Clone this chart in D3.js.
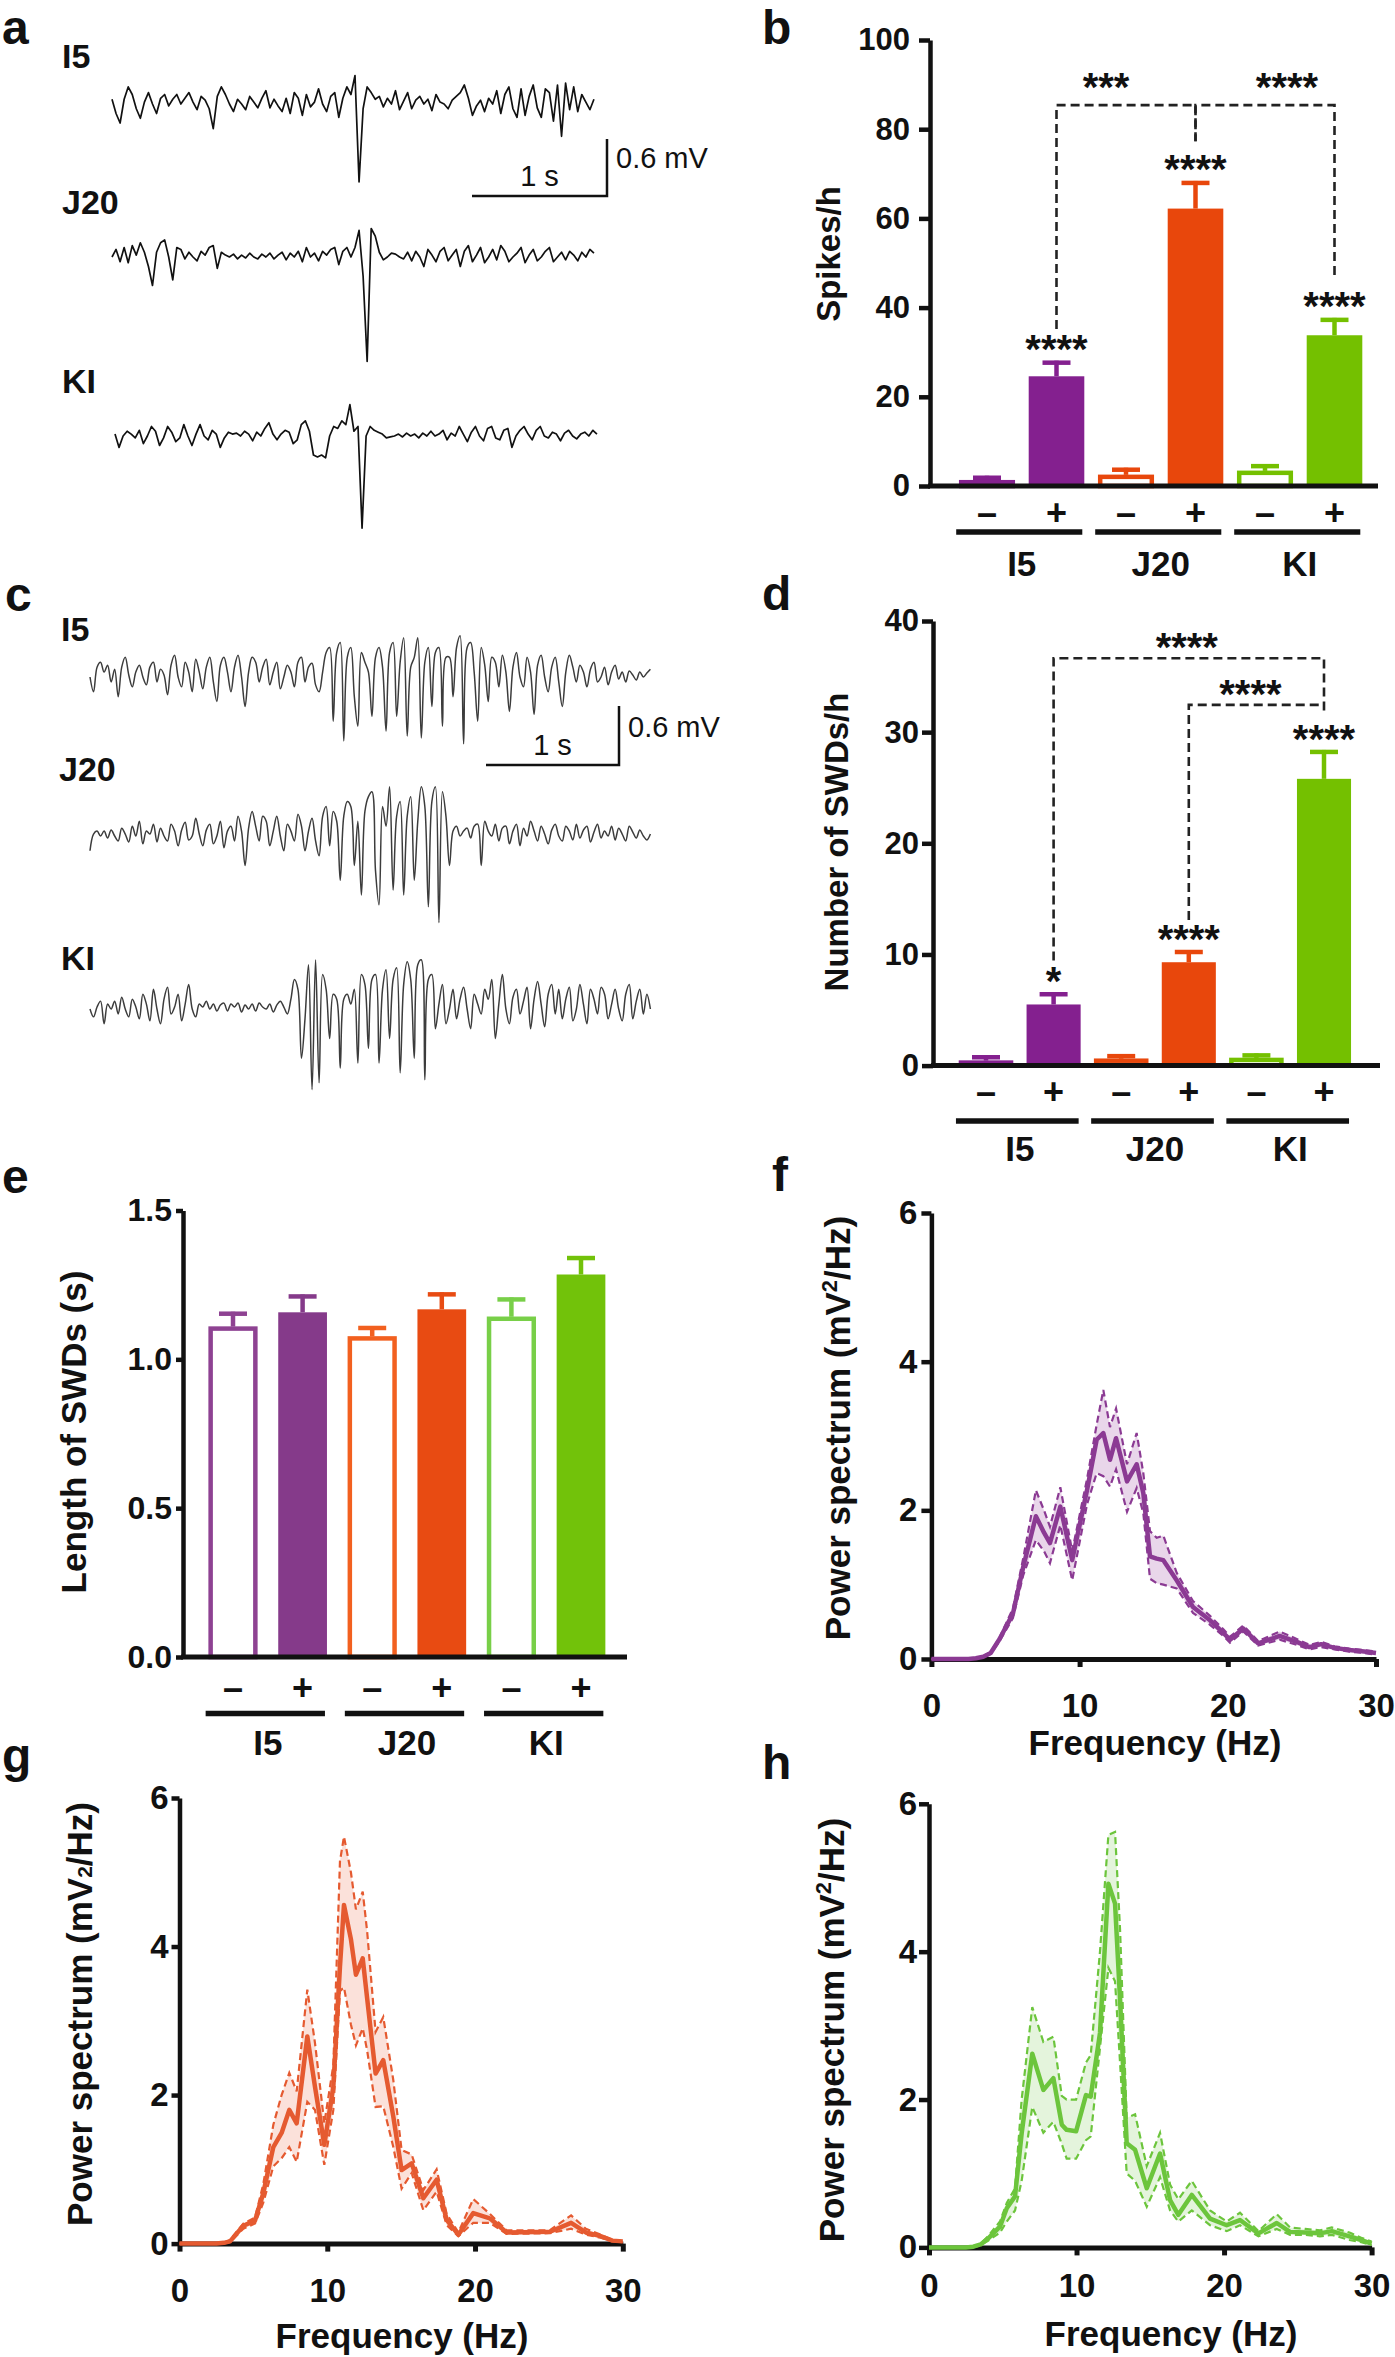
<!DOCTYPE html>
<html>
<head>
<meta charset="utf-8">
<script src="https://cdn.jsdelivr.net/npm/d3@7"></script>
<style>
body { margin: 0; background: #fff; }
svg { display: block; }
text { font-family: "Liberation Sans", Arial, Helvetica, sans-serif; fill: #111; }
</style>
</head>
<body>
<svg id="fig" width="1395" height="2357"></svg>
<script>
var svg = d3.select("#fig")

// ---------- data ----------
var groups = ["I5", "J20", "KI"]
var barKeys = ["I5-", "I5+", "J20-", "J20+", "KI-", "KI+"]
var signs = ["–", "+", "–", "+", "–", "+"]

var spikesMean = [1.3, 24.6, 2.5, 62.2, 3.4, 33.8]
var spikesErr = [1.0, 3.5, 1.6, 6.2, 1.5, 3.9]
var swdMean = [0.45, 5.5, 0.62, 9.3, 0.69, 25.8]
var swdErr = [0.48, 1.1, 0.41, 1.1, 0.41, 2.6]
var lenMean = [1.11, 1.158, 1.077, 1.168, 1.143, 1.285]
var lenErr = [0.05, 0.06, 0.035, 0.057, 0.065, 0.062]

var spikesTicks = [0, 20, 40, 60, 80, 100]
var swdTicks = [0, 10, 20, 30, 40]
var lenTicks = [0, 0.5, 1.0, 1.5]
var psdYTicks = [0, 2, 4, 6]
var psdXTicks = [0, 10, 20, 30]

var spikesStars = ["", "****", "", "****", "", "****"]
var swdStars = ["", "*", "", "****", "", "****"]
var spikesBrackets = [
   { from: "I5+", to: "J20+", level: 85.4, drops: [35.2, 77.3], label: "***" },
   { from: "J20+", to: "KI+", level: 85.4, drops: [77.3, 47.2], label: "****" }
]
var swdBrackets = [
   { from: "I5+", to: "KI+", level: 36.65, drops: [9.46, 31.66], label: "****" },
   { from: "J20+", to: "KI+", level: 32.45, drops: [13.1, 32.45], label: "****" }
]

// power spectra (Hz, mV2/Hz): mean and the dashed upper / lower bounds
var i5Freq = [0, 2.5, 3, 3.5, 4, 4.6, 5.5, 6.2, 7.05, 7.6, 8.0, 8.7, 9.5, 10.5, 11.15, 11.6, 12.05, 12.46, 13.2, 13.85, 14.3, 14.75, 15.2, 15.65, 16.55, 17.65, 18.8, 19.7, 20.15, 21.05, 22.05, 23.5, 24.65, 25.5, 26.3, 27.2, 28.2, 29.2, 30]
var i5Mean = [0, 0, 0.01, 0.03, 0.08, 0.27, 0.61, 1.24, 1.92, 1.7, 1.56, 2.05, 1.33, 2.27, 2.95, 3.04, 2.68, 2.97, 2.39, 2.62, 2.23, 1.38, 1.35, 1.33, 1.06, 0.7, 0.52, 0.35, 0.26, 0.41, 0.21, 0.31, 0.23, 0.16, 0.2, 0.15, 0.12, 0.1, 0.08]
var i5Hi = [0, 0, 0.01, 0.04, 0.09, 0.29, 0.68, 1.36, 2.27, 2.0, 1.78, 2.31, 1.45, 2.42, 3.15, 3.62, 3.12, 3.37, 2.62, 3.04, 2.5, 1.72, 1.63, 1.66, 1.16, 0.78, 0.58, 0.4, 0.3, 0.45, 0.24, 0.37, 0.27, 0.19, 0.23, 0.17, 0.14, 0.12, 0.1]
var i5Lo = [0, 0, 0.01, 0.02, 0.07, 0.24, 0.55, 1.13, 1.6, 1.45, 1.29, 1.8, 1.06, 2.08, 2.5, 2.46, 2.32, 2.55, 1.98, 2.3, 1.96, 1.08, 1.02, 1.0, 0.95, 0.62, 0.46, 0.31, 0.22, 0.37, 0.18, 0.26, 0.19, 0.13, 0.16, 0.13, 0.1, 0.08, 0.06]

var j20Freq = [0, 2.5, 3, 3.42, 4.32, 5.11, 5.67, 6.35, 6.91, 7.43, 7.93, 8.65, 9.17, 9.8, 10.41, 10.86, 11.13, 11.6, 11.94, 12.4, 12.7, 13.27, 13.79, 14.47, 15.03, 15.71, 16.5, 17.4, 18.08, 18.87, 19.88, 21.0, 22.14, 25.07, 26.5, 27.5, 28.5, 29.3, 30]
var j20Mean = [0, 0, 0.01, 0.03, 0.24, 0.31, 0.68, 1.3, 1.49, 1.8, 1.62, 2.79, 2.11, 1.33, 2.11, 3.73, 4.56, 4.1, 3.62, 3.84, 3.3, 2.29, 2.47, 1.71, 0.99, 1.08, 0.61, 0.86, 0.32, 0.12, 0.41, 0.34, 0.15, 0.16, 0.28, 0.15, 0.1, 0.04, 0.03]
var j20Hi = [0, 0, 0.01, 0.05, 0.27, 0.35, 0.8, 1.6, 2.0, 2.3, 2.05, 3.42, 2.7, 1.62, 2.4, 5.15, 5.48, 5.0, 4.5, 4.74, 4.2, 2.85, 3.05, 2.2, 1.26, 1.2, 0.72, 1.0, 0.4, 0.15, 0.6, 0.4, 0.18, 0.18, 0.38, 0.2, 0.12, 0.05, 0.04]
var j20Lo = [0, 0, 0.0, 0.02, 0.2, 0.27, 0.55, 1.04, 1.15, 1.3, 1.1, 1.91, 1.8, 1.06, 1.8, 3.4, 3.45, 2.95, 2.67, 2.9, 2.6, 1.84, 1.85, 1.3, 0.74, 0.95, 0.45, 0.7, 0.25, 0.1, 0.28, 0.28, 0.13, 0.14, 0.2, 0.12, 0.08, 0.03, 0.02]

var kiFreq = [0, 2.5, 3, 3.5, 4, 4.81, 5.27, 5.83, 6.28, 7.0, 7.75, 8.43, 9.0, 9.33, 9.97, 10.64, 10.96, 11.59, 12.16, 12.61, 12.95, 13.4, 13.97, 14.76, 15.66, 16.34, 16.9, 17.81, 19.05, 20.18, 21.08, 22.33, 23.57, 24.47, 25.5, 26.5, 27.3, 28.5, 29.3, 30]
var kiMean = [0, 0, 0.01, 0.04, 0.12, 0.28, 0.53, 0.69, 1.54, 2.62, 2.13, 2.29, 1.66, 1.59, 1.57, 2.06, 2.04, 2.9, 4.92, 4.65, 3.35, 1.41, 1.32, 0.8, 1.27, 0.64, 0.44, 0.71, 0.39, 0.3, 0.37, 0.19, 0.33, 0.21, 0.2, 0.19, 0.22, 0.15, 0.1, 0.05]
var kiHi = [0, 0, 0.01, 0.05, 0.15, 0.35, 0.6, 0.8, 2.0, 3.25, 2.78, 2.85, 2.05, 2.0, 2.0, 2.5, 2.6, 4.0, 5.58, 5.62, 4.3, 1.75, 1.8, 1.1, 1.55, 0.85, 0.65, 0.9, 0.5, 0.35, 0.47, 0.22, 0.45, 0.27, 0.25, 0.23, 0.27, 0.2, 0.13, 0.08]
var kiLo = [0, 0, 0.0, 0.03, 0.09, 0.2, 0.35, 0.5, 0.9, 1.9, 1.55, 1.7, 1.4, 1.2, 1.2, 1.45, 1.5, 2.7, 3.78, 3.6, 2.5, 1.0, 0.9, 0.55, 0.95, 0.5, 0.35, 0.5, 0.3, 0.22, 0.3, 0.15, 0.25, 0.17, 0.17, 0.15, 0.17, 0.1, 0.07, 0.03]

// EEG traces (mV relative to baseline), interictal spikes, 0.03 s per sample
var spikeDt = 0.03
var spikeI5 = [0.05,-0.1,-0.2,0.05,0.18,0.1,-0.05,-0.15,0.02,0.12,
   0.0,-0.1,0.06,0.1,-0.02,0.05,0.1,0.0,0.06,0.12,
   0.02,-0.06,0.08,0.04,-0.05,-0.26,0.08,0.18,0.1,0.0,
   -0.08,0.05,0.0,-0.06,0.08,0.02,-0.04,0.06,0.14,-0.04,
   0.05,-0.02,-0.08,0.06,-0.1,0.12,0.06,-0.12,0.1,-0.03,
   0.02,0.16,0.0,-0.08,0.08,0.12,-0.14,0.06,0.18,0.1,
   0.3,-0.82,-0.05,0.18,0.12,0.05,0.08,-0.03,0.06,0.0,
   0.14,-0.06,0.03,0.12,-0.05,0.04,0.08,0.0,0.05,-0.07,
   0.1,0.02,0.0,-0.05,0.04,0.08,0.12,0.2,0.06,-0.12,
   -0.02,0.04,-0.08,0.06,0.0,0.14,-0.1,0.1,0.18,-0.05,
   -0.14,0.16,-0.12,0.08,0.2,-0.04,-0.14,0.16,0.12,-0.18,
   0.2,-0.34,0.22,-0.06,0.18,-0.08,0.1,0.02,-0.06,0.05]
var spikeJ20 = [0.0,0.08,-0.05,0.1,-0.06,0.12,0.02,0.15,0.05,-0.1,
   -0.3,0.05,0.15,0.18,0.0,-0.24,0.1,0.08,-0.02,0.05,
   0.0,-0.04,0.06,0.02,0.1,0.12,-0.12,0.05,0.02,0.0,
   0.03,-0.02,0.02,-0.01,0.04,0.0,-0.02,0.03,0.0,0.04,
   -0.02,0.02,0.05,-0.03,0.04,0.0,0.06,-0.05,0.1,0.0,
   0.04,-0.04,0.06,0.02,0.08,0.1,-0.08,0.06,0.1,0.0,
   0.1,0.28,-0.2,-1.1,0.3,0.22,0.05,-0.03,0.0,0.04,
   0.03,0.0,-0.02,0.05,-0.04,0.06,0.0,-0.1,0.08,0.02,
   -0.05,0.06,0.1,-0.04,0.02,0.08,-0.1,0.06,0.12,-0.05,
   0.02,0.1,-0.06,0.0,0.08,-0.03,0.12,0.06,-0.05,0.0,
   0.04,0.1,-0.06,0.02,0.08,-0.04,0.0,0.06,0.1,-0.05,
   0.0,0.05,-0.03,0.06,0.02,-0.04,0.05,0.0,0.08,0.04]
var spikeKI = [0.02,-0.12,0.0,0.05,0.02,-0.02,0.06,-0.08,0.0,0.1,
   0.05,-0.1,-0.02,0.1,0.04,-0.06,-0.02,0.12,0.0,-0.1,
   0.02,0.12,0.0,-0.04,0.06,0.02,-0.12,-0.02,0.04,0.02,
   0.03,0.0,0.05,0.02,-0.05,0.04,0.0,0.08,0.14,0.02,
   -0.04,0.02,0.06,0.04,-0.08,-0.04,0.12,0.16,0.05,-0.2,
   -0.22,-0.2,-0.23,0.0,0.1,0.08,0.16,0.12,0.33,0.05,
   0.1,-0.97,0.0,0.1,0.06,0.04,0.02,-0.02,-0.01,0.0,
   0.02,-0.01,0.03,0.0,0.02,-0.02,0.03,0.0,0.05,0.0,
   0.02,0.06,-0.04,0.03,0.0,0.1,0.02,-0.06,0.04,0.1,
   0.0,-0.05,0.08,0.1,-0.02,-0.04,0.06,0.08,-0.12,0.0,
   0.06,0.1,0.02,-0.04,0.06,0.1,0.0,-0.02,0.04,0.02,
   -0.05,0.03,0.06,0.0,-0.03,0.02,0.04,0.0,0.06,0.02]

// EEG traces with spike-wave discharges, 0.0265 s per sample
var swdDt = 0.0265
var swdI5 = [0.0,-0.15,0.1,0.15,0.05,0.12,-0.05,0.08,-0.2,0.1,
   0.2,0.02,-0.1,0.05,0.12,0.0,-0.08,0.1,0.15,-0.05,
   0.08,0.02,-0.18,0.12,0.22,0.0,-0.1,0.15,0.05,-0.15,
   0.18,0.05,-0.12,0.1,0.2,-0.05,-0.25,0.12,0.2,0.05,
   -0.15,0.1,0.22,0.0,-0.3,0.05,0.2,0.15,-0.05,0.1,
   0.18,-0.08,0.05,0.15,-0.12,0.0,0.12,0.05,-0.1,0.15,
   0.2,-0.05,0.1,0.14,-0.08,-0.15,0.05,0.25,0.3,-0.45,
   0.25,0.35,-0.65,0.2,0.3,-0.2,-0.5,0.25,0.15,0.05,
   -0.4,0.2,0.3,0.1,-0.55,0.25,0.35,-0.4,0.15,0.4,
   -0.6,0.1,0.2,0.4,-0.62,0.15,0.3,-0.3,0.25,0.3,
   -0.5,0.2,0.2,-0.2,0.3,0.42,-0.68,0.3,0.35,0.05,
   -0.45,0.3,0.12,-0.25,0.2,0.15,-0.1,0.22,0.05,-0.35,
   0.1,0.25,0.0,-0.1,0.2,0.05,-0.38,0.12,0.22,0.0,
   -0.15,0.1,0.2,-0.05,-0.3,0.05,0.22,0.1,-0.05,0.12,
   0.05,-0.1,0.08,0.15,-0.05,0.0,0.1,-0.08,0.05,0.12,
   -0.02,0.05,-0.05,0.06,0.02,-0.03,0.05,0.0,0.04,0.08]
var swdJ20 = [-0.15,0.02,0.05,0.0,0.05,-0.02,0.06,0.0,-0.05,0.08,
   0.02,-0.06,0.1,0.0,0.15,-0.08,0.05,0.02,0.12,-0.06,
   0.08,0.0,-0.05,0.12,0.05,-0.1,0.06,0.14,-0.04,0.0,
   0.18,0.02,-0.1,0.06,0.12,-0.08,0.0,0.15,-0.12,0.05,
   0.1,-0.05,0.2,0.05,-0.3,0.08,0.25,0.1,-0.05,0.2,
   0.15,-0.1,0.05,0.2,0.0,-0.15,0.12,0.05,-0.05,0.22,
   0.1,-0.15,0.05,0.18,-0.05,-0.2,0.2,0.3,-0.1,0.25,
   0.15,-0.45,0.2,0.35,0.3,-0.3,0.15,-0.6,0.25,0.4,
   0.45,-0.35,-0.7,0.3,0.1,0.5,-0.55,0.2,0.35,-0.6,
   0.2,0.4,-0.45,0.15,0.5,0.3,-0.72,0.35,0.5,-0.88,
   0.45,0.2,-0.3,0.05,0.1,0.0,0.05,0.08,-0.02,0.1,
   0.12,-0.3,0.15,0.05,0.0,0.12,-0.05,0.08,0.1,-0.08,
   0.05,0.12,-0.1,0.08,0.0,0.15,0.05,-0.05,0.1,0.02,
   -0.08,0.06,0.12,0.0,-0.05,0.1,0.05,-0.04,0.12,-0.02,
   0.06,0.1,-0.06,0.04,0.12,-0.02,0.05,0.0,0.1,-0.04,
   0.08,0.02,-0.05,0.1,0.04,-0.02,0.06,0.0,-0.04,0.02]
var swdKI = [0.0,-0.08,0.02,0.08,-0.15,0.05,0.0,0.08,-0.05,0.12,
   0.0,-0.08,0.1,0.02,-0.1,0.15,0.05,-0.12,0.2,0.0,
   -0.15,0.1,0.22,-0.05,0.02,0.15,-0.12,0.05,0.25,0.0,
   -0.08,0.05,0.02,0.08,0.0,0.05,-0.02,0.04,0.06,-0.02,
   0.05,0.02,0.06,-0.03,0.04,0.0,0.05,-0.02,0.06,0.02,
   0.0,0.05,-0.03,0.04,0.08,0.02,-0.05,0.1,0.3,0.2,
   -0.5,-0.1,0.45,-0.82,0.5,-0.75,0.35,0.2,-0.3,0.15,
   0.1,-0.6,0.1,0.15,0.05,0.2,-0.55,0.35,0.25,-0.4,
   0.3,0.35,-0.55,0.2,0.4,-0.3,0.3,0.42,-0.65,0.25,
   0.48,0.3,-0.5,0.45,0.5,-0.72,0.3,0.35,-0.2,0.05,
   0.25,-0.15,0.0,0.2,-0.1,0.1,0.22,0.0,-0.2,0.15,
   0.05,-0.05,0.2,0.1,0.3,-0.3,0.05,0.35,0.0,-0.15,
   0.12,0.2,-0.05,0.08,0.22,-0.2,0.1,0.28,0.05,-0.18,
   0.15,0.25,-0.05,0.2,-0.1,0.1,0.22,-0.12,0.0,0.25,
   0.05,-0.15,0.2,0.1,-0.05,0.22,0.15,-0.1,0.05,0.2,
   0.0,-0.12,0.15,0.25,-0.1,0.08,0.2,-0.05,0.15,0.0]

// ---------- colours ----------
var barColors = ["#84208f", "#e8470c", "#74c000"]
var lenColors = ["#853a8a", "#e84b12", "#72c20a"]
var lenOpenColors = ["#8e4292", "#f2601f", "#78cf48"]

// ---------- helpers ----------
function panelLetter(t, x, y) {
   svg.append("text").attr("x", x).attr("y", y)
      .attr("font-size", 48).attr("font-weight", "bold").text(t)
}

function styleAxis(g, fs, sw) {
   g.select(".domain").attr("stroke", "#111").attr("stroke-width", sw)
   g.selectAll(".tick line").attr("stroke", "#111").attr("stroke-width", sw)
   g.selectAll(".tick text").attr("font-size", fs).attr("font-weight", "bold")
      .attr("fill", "#111").style("font-family", '"Liberation Sans", Arial, sans-serif')
}

function rotLabel(parts, x, y, fs) {
   let t = svg.append("text")
      .attr("transform", "translate(" + x + "," + y + ") rotate(-90)")
      .attr("text-anchor", "middle").attr("font-size", fs).attr("font-weight", "bold")
   parts.forEach(function(p) {
      let s = t.append("tspan").text(p.t)
      if(p.fs) s.attr("font-size", p.fs)
      if(p.dy) s.attr("dy", p.dy)
   })
   return t
}

// ---------- bar panels ----------
function barPanel(cfg) {
   let g = svg.append("g")
   let x = d3.scaleBand().domain(barKeys).range(cfg.xr)
      .paddingInner(cfg.pin).paddingOuter(cfg.pin / 2)
   let y = d3.scaleLinear().domain([0, cfg.max]).range([cfg.y0, cfg.y1])
   let bw = x.bandwidth()
   let colors = cfg.colors

   // y axis
   let ya = g.append("g").attr("transform", "translate(" + cfg.ax + ",0)")
      .call(d3.axisLeft(y).tickValues(cfg.ticks).tickFormat(cfg.fmt)
         .tickSize(cfg.tickSize).tickSizeOuter(0).tickPadding(cfg.tickPad))
   styleAxis(ya, cfg.tickFs, 4.5)

   barKeys.forEach(function(k, i) {
      let gi = Math.floor(i / 2)
      let open = (i % 2 == 0)
      let col = open ? (cfg.openColors || colors)[gi] : colors[gi]
      let v = cfg.values[i], e = cfg.errs[i]
      let cx = x(k) + bw / 2

      g.append("line").attr("x1", cx).attr("x2", cx)
         .attr("y1", y(v)).attr("y2", y(v + e))
         .attr("stroke", col).attr("stroke-width", 4.5)
      g.append("line").attr("x1", cx - 14).attr("x2", cx + 14)
         .attr("y1", y(v + e) + 2).attr("y2", y(v + e) + 2)
         .attr("stroke", col).attr("stroke-width", 4.5)

      if(open) {
         g.append("rect").attr("x", x(k) + 2).attr("y", y(v) + 2)
            .attr("width", bw - 4).attr("height", Math.max(0, y(0) - y(v) - 2))
            .attr("fill", "#fff").attr("stroke", col).attr("stroke-width", 4.5)
      } else {
         g.append("rect").attr("x", x(k)).attr("y", y(v))
            .attr("width", bw).attr("height", y(0) - y(v))
            .attr("fill", col)
      }

      // +/- row
      g.append("text").attr("x", cx).attr("y", cfg.signY + 12)
         .attr("text-anchor", "middle").attr("font-size", 36).attr("font-weight", "bold")
         .text(signs[i])

      // stars over the bar
      if(cfg.stars && cfg.stars[i]) {
         g.append("text").attr("x", cx).attr("y", y(v + e) - cfg.starGap + 22)
            .attr("text-anchor", "middle").attr("font-size", 40).attr("font-weight", "bold")
            .text(cfg.stars[i])
      }
   })

   // x baseline
   g.append("line").attr("x1", cfg.ax - 2).attr("x2", cfg.baseEnd)
      .attr("y1", y(0)).attr("y2", y(0))
      .attr("stroke", "#111").attr("stroke-width", 5)

   // group lines and names
   groups.forEach(function(name, gi) {
      let a = x(barKeys[gi * 2]), b = x(barKeys[gi * 2 + 1]) + bw
      g.append("line").attr("x1", a - 3).attr("x2", b - 2)
         .attr("y1", cfg.lineY).attr("y2", cfg.lineY)
         .attr("stroke", "#111").attr("stroke-width", 5.5)
      g.append("text").attr("x", (a + b) / 2).attr("y", cfg.groupY)
         .attr("text-anchor", "middle").attr("font-size", 35).attr("font-weight", "bold")
         .text(name)
   })

   // comparison brackets
   if(cfg.brackets) {
      cfg.brackets.forEach(function(br, bi) {
         let x1 = x(br.from) + bw / 2, x2 = x(br.to) + bw / 2
         g.append("path")
            .attr("d", "M" + x1 + "," + y(br.drops[0]) + "V" + y(br.level) +
               "H" + x2 + "V" + y(br.drops[1]))
            .attr("fill", "none").attr("stroke", "#222").attr("stroke-width", 2.6)
            .attr("stroke-dasharray", "9,5")
         g.append("text").attr("x", (x1 + x2) / 2 + cfg.labelShift[bi])
            .attr("y", y(br.level) - cfg.bracketGap + 22)
            .attr("text-anchor", "middle").attr("font-size", 40).attr("font-weight", "bold")
            .text(br.label)
      })
   }

   rotLabel([{ t: cfg.ylabel }], cfg.ylabelX, cfg.ylabelY, cfg.ylabelFs)
}

// ---------- spectrum panels ----------
function spectrumPanel(cfg) {
   let g = svg.append("g")
   let x = d3.scaleLinear().domain([0, 30]).range([cfg.x0, cfg.x1])
   let y = d3.scaleLinear().domain([0, 6]).range([cfg.y0, cfg.y1])
   let pts = cfg.freq.map(function(f, i) {
      return { f: f, m: cfg.mean[i], lo: cfg.lo[i], hi: cfg.hi[i] }
   })

   let ya = g.append("g").attr("transform", "translate(" + cfg.x0 + ",0)")
      .call(d3.axisLeft(y).tickValues(psdYTicks).tickFormat(d3.format("d"))
         .tickSize(cfg.yTickSize).tickSizeOuter(0).tickPadding(cfg.yTickPad))
   styleAxis(ya, 33, 4.5)
   let xa = g.append("g").attr("transform", "translate(0," + cfg.y0 + ")")
      .call(d3.axisBottom(x).tickValues(psdXTicks).tickFormat(d3.format("d"))
         .tickSize(8).tickSizeOuter(0).tickPadding(cfg.xTickPad))
   styleAxis(xa, 33, 5)

   g.append("path").datum(pts)
      .attr("d", d3.area().x(function(d) { return x(d.f) })
         .y0(function(d) { return y(d.lo) }).y1(function(d) { return y(d.hi) }))
      .attr("fill", cfg.fill)

   ;["hi", "lo"].forEach(function(k) {
      g.append("path").datum(pts)
         .attr("d", d3.line().x(function(d) { return x(d.f) }).y(function(d) { return y(d[k]) }))
         .attr("fill", "none").attr("stroke", cfg.color).attr("stroke-width", 2.2)
         .attr("stroke-dasharray", "7,4")
   })
   g.append("path").datum(pts)
      .attr("d", d3.line().x(function(d) { return x(d.f) }).y(function(d) { return y(d.m) }))
      .attr("fill", "none").attr("stroke", cfg.color).attr("stroke-width", 4.5)
      .attr("stroke-linejoin", "round")

   g.append("text").attr("x", cfg.xlabelX).attr("y", cfg.xlabelY)
      .attr("text-anchor", "middle").attr("font-size", 35).attr("font-weight", "bold")
      .text("Frequency (Hz)")

   let parts = cfg.sup
      ? [{ t: "Power spectrum (mV" }, { t: "2", fs: 22, dy: -13 }, { t: "/Hz)", fs: 35, dy: 13 }]
      : [{ t: "Power spectrum (mV" }, { t: "2", fs: 21 }, { t: "/Hz)", fs: 35 }]
   rotLabel(parts, cfg.ylabelX, cfg.ylabelY, 35)
}

// ---------- EEG traces ----------
function tracePanel(cfg) {
   let g = svg.append("g")
   let tScale = d3.scaleLinear().domain([0, 1]).range([0, cfg.pxPerSec])
   let vScale = d3.scaleLinear().domain([0, 0.6]).range([0, cfg.pxPer06])

   cfg.traces.forEach(function(tr) {
      let line = d3.line()
         .curve(cfg.curve)
         .x(function(d, i) { return tr.x0 + tScale(i * cfg.dt) })
         .y(function(d) { return tr.y0 - vScale(d) })
      g.append("path").datum(tr.data).attr("d", line)
         .attr("fill", "none").attr("stroke", cfg.color).attr("stroke-width", cfg.sw)
         .attr("stroke-linejoin", "round")
      g.append("text").attr("x", tr.lx).attr("y", tr.ly)
         .attr("font-size", 34).attr("font-weight", "bold").text(tr.name)
   })

   // scale bar
   let sb = cfg.bar
   let bx1 = sb.x - tScale(1), by1 = sb.y - vScale(0.6)
   g.append("path").attr("d", "M" + bx1 + "," + sb.y + "H" + sb.x + "V" + by1)
      .attr("fill", "none").attr("stroke", "#111").attr("stroke-width", 2.5)
   g.append("text").attr("x", (bx1 + sb.x) / 2).attr("y", sb.y - 10)
      .attr("text-anchor", "middle").attr("font-size", 29).text("1 s")
   g.append("text").attr("x", sb.x + 9).attr("y", sb.y - 28)
      .attr("font-size", 29).text("0.6 mV")
}

// ---------- build ----------
tracePanel({
   dt: spikeDt, pxPerSec: 135, pxPer06: 57, color: "#111", sw: 1.7,
   curve: d3.curveLinear,
   bar: { x: 607, y: 196 },
   traces: [
      { name: "I5", data: spikeI5, x0: 112, y0: 104, lx: 62, ly: 68 },
      { name: "J20", data: spikeJ20, x0: 112, y0: 257, lx: 62, ly: 214 },
      { name: "KI", data: spikeKI, x0: 115, y0: 436, lx: 62, ly: 393 }
   ]
})

tracePanel({
   dt: swdDt, pxPerSec: 133, pxPer06: 59, color: "#3c3c3c", sw: 1.5,
   curve: d3.curveCatmullRom.alpha(0.5),
   bar: { x: 619, y: 765 },
   traces: [
      { name: "I5", data: swdI5, x0: 90, y0: 677, lx: 61, ly: 641 },
      { name: "J20", data: swdJ20, x0: 90, y0: 836, lx: 59, ly: 781 },
      { name: "KI", data: swdKI, x0: 90, y0: 1009, lx: 61, ly: 970 }
   ]
})

barPanel({
   values: spikesMean, errs: spikesErr, ticks: spikesTicks, fmt: d3.format("d"), max: 100,
   ax: 930, xr: [952.25, 1369.25], pin: 0.2, y0: 486, y1: 40, baseEnd: 1378,
   colors: barColors, tickSize: 11, tickPad: 9, tickFs: 31,
   signY: 513, lineY: 532, groupY: 576,
   stars: spikesStars, starGap: 20, brackets: spikesBrackets, bracketGap: 26, labelShift: [-20, 22],
   ylabel: "Spikes/h", ylabelX: 840, ylabelY: 254, ylabelFs: 33
})

barPanel({
   values: swdMean, errs: swdErr, ticks: swdTicks, fmt: d3.format("d"), max: 40,
   ax: 933, xr: [952.2, 1357.8], pin: 0.2, y0: 1065.6, y1: 621, baseEnd: 1380,
   colors: barColors, tickSize: 11, tickPad: 3, tickFs: 31,
   signY: 1092, lineY: 1121, groupY: 1161,
   stars: swdStars, starGap: 19, brackets: swdBrackets, bracketGap: 19, labelShift: [-2, -6],
   ylabel: "Number of SWDs/h", ylabelX: 848, ylabelY: 842, ylabelFs: 33
})

barPanel({
   values: lenMean, errs: lenErr, ticks: lenTicks, fmt: d3.format(".1f"), max: 1.5,
   ax: 183, xr: [198.2, 615.8], pin: 0.3, y0: 1657, y1: 1210.5, baseEnd: 627,
   colors: lenColors, openColors: lenOpenColors, tickSize: 7, tickPad: 4, tickFs: 32,
   signY: 1688, lineY: 1713.5, groupY: 1755,
   ylabel: "Length of SWDs (s)", ylabelX: 86, ylabelY: 1432, ylabelFs: 35
})

spectrumPanel({
   freq: i5Freq, mean: i5Mean, lo: i5Lo, hi: i5Hi, color: "#8b3a93", fill: "#e9d6ea",
   x0: 931.4, x1: 1376, y0: 1659, y1: 1213, yTickSize: 10, yTickPad: 4, xTickPad: 27,
   xlabelX: 1155, xlabelY: 1755, ylabelX: 850, ylabelY: 1428, sup: true
})

spectrumPanel({
   freq: j20Freq, mean: j20Mean, lo: j20Lo, hi: j20Hi, color: "#e55a30", fill: "#fbe1da",
   x0: 179.5, x1: 622.8, y0: 2243.6, y1: 1798, yTickSize: 8, yTickPad: 3, xTickPad: 27,
   xlabelX: 402, xlabelY: 2348, ylabelX: 92, ylabelY: 2014, sup: false
})

spectrumPanel({
   freq: kiFreq, mean: kiMean, lo: kiLo, hi: kiHi, color: "#6cc53c", fill: "#e4f4dc",
   x0: 929, x1: 1371.6, y0: 2247.4, y1: 1803.8, yTickSize: 10, yTickPad: 2, xTickPad: 18,
   xlabelX: 1171, xlabelY: 2346, ylabelX: 844, ylabelY: 2030, sup: true
})

panelLetter("a", 2, 44)
panelLetter("b", 762, 44)
panelLetter("c", 5, 611)
panelLetter("d", 762, 610)
panelLetter("e", 2, 1193)
panelLetter("f", 772, 1191)
panelLetter("g", 2, 1772)
panelLetter("h", 762, 1779)
</script>
</body>
</html>
